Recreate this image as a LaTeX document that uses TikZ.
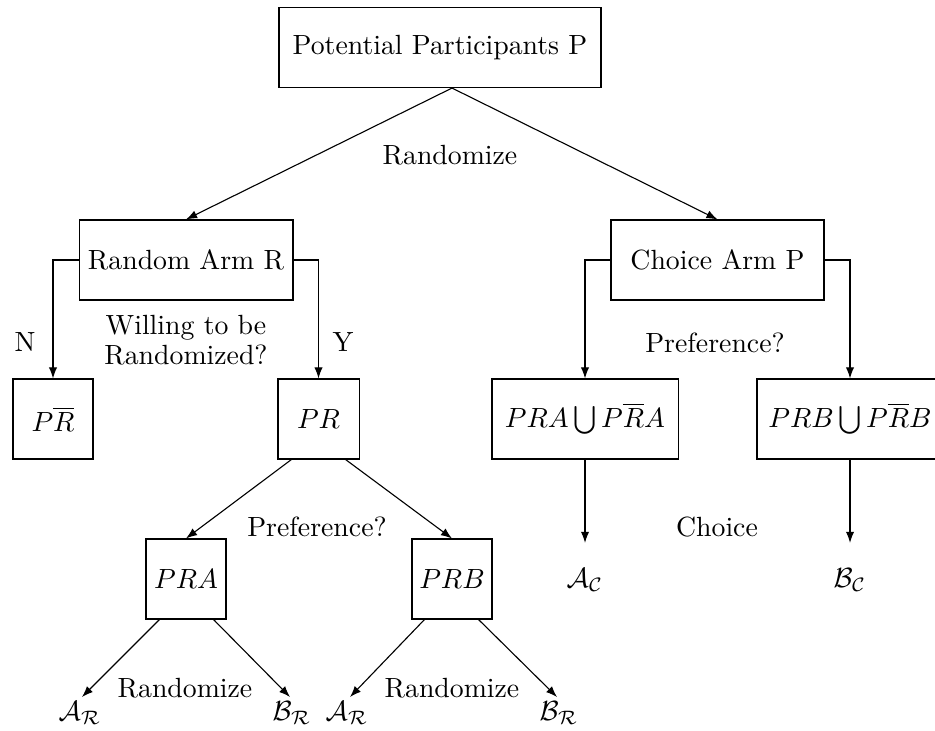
\documentclass[tikz,border=0pt]{standalone}
\usetikzlibrary{arrows.meta,calc}
\begin{document}
\begin{tikzpicture}[x=0.36pt,y=-0.36pt,
  box/.style={draw,thin,inner sep=0pt,minimum height=28.8pt},
  lbl/.style={inner sep=0pt},
  arr/.style={thin,-{Latex[length=4pt,width=3pt]}}]
\useasboundingbox (0,0) rectangle (935,730);
\clip (0,0) rectangle (935,730);
% boxes
\node[box,minimum width=115.9pt] (P) at (440,47.5) {Potential Participants P};
\node[box,minimum width=77pt] (RA) at (186,260) {Random Arm R};
\node[box,minimum width=76.7pt] (CA) at (717.5,260) {Choice Arm P};
\node[box,minimum width=28.8pt] (PRbar) at (53,419) {$P\overline{R}$};
\node[box,minimum width=29.2pt] (PR) at (318.5,419) {$PR$};
\node[box,minimum width=67pt] (PRAu) at (585,419) {$PRA\bigcup P\overline{R}A$};
\node[box,minimum width=67pt] (PRBu) at (850,419) {$PRB\bigcup P\overline{R}B$};
\node[box,minimum width=28.8pt] (PRA) at (186,579) {$PRA$};
\node[box,minimum width=28.8pt] (PRB) at (452,579) {$PRB$};
% outcome labels
\node[lbl,anchor=north] (AR1) at (80,701) {$\mathcal{A}_\mathcal{R}$};
\node[lbl,anchor=north] (BR1) at (292,701) {$\mathcal{B}_\mathcal{R}$};
\node[lbl,anchor=north] (AR2) at (347,701) {$\mathcal{A}_\mathcal{R}$};
\node[lbl,anchor=north] (BR2) at (559,701) {$\mathcal{B}_\mathcal{R}$};
\node[lbl] (AC) at (585,580) {$\mathcal{A}_\mathcal{C}$};
\node[lbl] (BC) at (850,580) {$\mathcal{B}_\mathcal{C}$};
% text labels
\node (t1) at (450,155) {Randomize};
\node (tN) at (25,342) {N};
\node (tY) at (343,342) {Y};
\node[align=center] (tW) at (186,340) {Willing to be\\[-1pt]Randomized?};
\node (tP1) at (715,343) {Preference?};
\node (tP2) at (317,527) {Preference?};
\node (tC) at (717,527) {Choice};
\node (tR1) at (185,688) {Randomize};
\node (tR2) at (452,688) {Randomize};
% connectors
\coordinate (apex) at ($(P.south)+(12,0)$);
\draw[arr] (apex) -- (RA.north);
\draw[arr] (apex) -- (CA.north);
\draw[arr] (RA.west) -| (PRbar.north);
\draw[arr] (RA.east) -| (PR.north);
\draw[arr] (CA.west) -| (PRAu.north);
\draw[arr] (CA.east) -| (PRBu.north);
\draw[arr] ($(PR.south west)+(14,0)$) -- (PRA.north);
\draw[arr] ($(PR.south east)+(-14,0)$) -- (PRB.north);
\draw[arr] ($(PRA.south west)+(14,0)$) -- ($(AR1.north)+(2,-4)$);
\draw[arr] ($(PRA.south east)+(-13,0)$) -- ($(BR1.north)+(-2,-4)$);
\draw[arr] ($(PRB.south west)+(13,0)$) -- ($(AR2.north)+(3,-4)$);
\draw[arr] ($(PRB.south east)+(-14,0)$) -- ($(BR2.north)+(-2,-4)$);
\draw[arr,shorten >=9pt] (PRAu.south) -- (AC.north);
\draw[arr,shorten >=9pt] (PRBu.south) -- (BC.north);
\end{tikzpicture}
\end{document}
